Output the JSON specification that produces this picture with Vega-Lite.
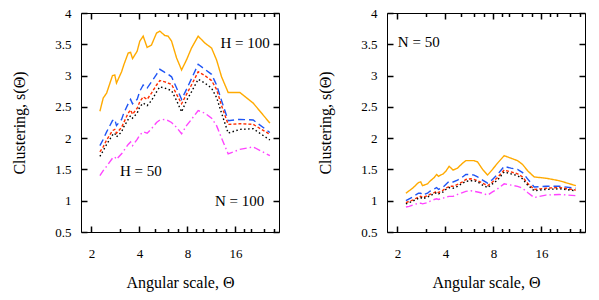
{
  "$schema": "https://vega.github.io/schema/vega-lite/v6.json",
  "padding": {"left": 11, "top": 6, "right": 5, "bottom": 5},
  "background": "white",
  "config": {
    "font": "Liberation Serif",
    "view": {"stroke": "black", "strokeWidth": 1},
    "axis": {"labelFont": "Liberation Serif", "labelFontSize": 13, "labelColor": "black", "titleFont": "Liberation Serif", "titleFontSize": 16, "titleFontWeight": "normal", "titleColor": "black", "ticks": true, "tickColor": "#000000", "tickWidth": 1.5, "tickOpacity": 1, "domain": false, "grid": false, "zindex": 1}
  },
  "datasets": {
    "curves": [
      {"panel": "L", "theta": 2.26, "o": 2.43, "b": 1.88, "r": 1.78, "k": 1.71, "m": 1.40},
      {"panel": "L", "theta": 2.37, "o": 2.64, "b": 1.98, "r": 1.86, "k": 1.80, "m": 1.48},
      {"panel": "L", "theta": 2.49, "o": 2.72, "b": 2.10, "r": 1.97, "k": 1.90, "m": 1.55},
      {"panel": "L", "theta": 2.71, "o": 3.00, "b": 2.28, "r": 2.12, "k": 2.05, "m": 1.68},
      {"panel": "L", "theta": 2.80, "o": 3.01, "b": 2.30, "r": 2.14, "k": 2.08, "m": 1.70},
      {"panel": "L", "theta": 2.87, "o": 2.88, "b": 2.20, "r": 2.08, "k": 2.02, "m": 1.66},
      {"panel": "L", "theta": 3.09, "o": 3.06, "b": 2.30, "r": 2.17, "k": 2.10, "m": 1.75},
      {"panel": "L", "theta": 3.19, "o": 3.17, "b": 2.40, "r": 2.25, "k": 2.18, "m": 1.80},
      {"panel": "L", "theta": 3.40, "o": 3.36, "b": 2.55, "r": 2.40, "k": 2.30, "m": 1.90},
      {"panel": "L", "theta": 3.52, "o": 3.37, "b": 2.62, "r": 2.45, "k": 2.36, "m": 1.94},
      {"panel": "L", "theta": 3.62, "o": 3.27, "b": 2.55, "r": 2.38, "k": 2.32, "m": 1.88},
      {"panel": "L", "theta": 3.87, "o": 3.39, "b": 2.62, "r": 2.48, "k": 2.40, "m": 1.98},
      {"panel": "L", "theta": 4.02, "o": 3.55, "b": 2.75, "r": 2.58, "k": 2.50, "m": 2.05},
      {"panel": "L", "theta": 4.22, "o": 3.63, "b": 2.85, "r": 2.66, "k": 2.56, "m": 2.10},
      {"panel": "L", "theta": 4.47, "o": 3.45, "b": 2.80, "r": 2.62, "k": 2.52, "m": 2.08},
      {"panel": "L", "theta": 4.76, "o": 3.49, "b": 2.90, "r": 2.72, "k": 2.60, "m": 2.15},
      {"panel": "L", "theta": 5.12, "o": 3.68, "b": 3.02, "r": 2.85, "k": 2.74, "m": 2.25},
      {"panel": "L", "theta": 5.37, "o": 3.71, "b": 3.10, "r": 2.92, "k": 2.82, "m": 2.29},
      {"panel": "L", "theta": 5.77, "o": 3.64, "b": 3.05, "r": 2.90, "k": 2.80, "m": 2.30},
      {"panel": "L", "theta": 6.05, "o": 3.63, "b": 3.02, "r": 2.88, "k": 2.78, "m": 2.28},
      {"panel": "L", "theta": 6.36, "o": 3.55, "b": 2.98, "r": 2.86, "k": 2.76, "m": 2.25},
      {"panel": "L", "theta": 6.84, "o": 3.28, "b": 2.80, "r": 2.70, "k": 2.60, "m": 2.17},
      {"panel": "L", "theta": 7.35, "o": 3.09, "b": 2.62, "r": 2.55, "k": 2.42, "m": 2.07},
      {"panel": "L", "theta": 7.89, "o": 3.25, "b": 2.78, "r": 2.70, "k": 2.60, "m": 2.20},
      {"panel": "L", "theta": 8.48, "o": 3.44, "b": 2.95, "r": 2.85, "k": 2.74, "m": 2.30},
      {"panel": "L", "theta": 9.34, "o": 3.63, "b": 3.18, "r": 3.06, "k": 2.94, "m": 2.44},
      {"panel": "L", "theta": 10.29, "o": 3.52, "b": 3.10, "r": 3.00, "k": 2.88, "m": 2.40},
      {"panel": "L", "theta": 11.33, "o": 3.44, "b": 3.02, "r": 2.92, "k": 2.80, "m": 2.32},
      {"panel": "L", "theta": 12.18, "o": 3.25, "b": 2.85, "r": 2.78, "k": 2.65, "m": 2.20},
      {"panel": "L", "theta": 13.09, "o": 2.98, "b": 2.60, "r": 2.52, "k": 2.40, "m": 2.00},
      {"panel": "L", "theta": 14.40, "o": 2.73, "b": 2.28, "r": 2.22, "k": 2.08, "m": 1.75},
      {"panel": "L", "theta": 17.04, "o": 2.73, "b": 2.30, "r": 2.23, "k": 2.14, "m": 1.82},
      {"panel": "L", "theta": 20.67, "o": 2.56, "b": 2.29, "r": 2.22, "k": 2.15, "m": 1.86},
      {"panel": "L", "theta": 26.3, "o": 2.24, "b": 2.09, "r": 2.06, "k": 1.97, "m": 1.72},
      {"panel": "R", "theta": 2.26, "o": 1.12, "b": 1.00, "r": 0.97, "k": 0.95, "m": 0.90},
      {"panel": "R", "theta": 2.37, "o": 1.16, "b": 1.03, "r": 0.99, "k": 0.97, "m": 0.91},
      {"panel": "R", "theta": 2.49, "o": 1.20, "b": 1.06, "r": 1.01, "k": 0.99, "m": 0.93},
      {"panel": "R", "theta": 2.71, "o": 1.29, "b": 1.12, "r": 1.06, "k": 1.04, "m": 0.96},
      {"panel": "R", "theta": 2.80, "o": 1.30, "b": 1.12, "r": 1.07, "k": 1.05, "m": 0.96},
      {"panel": "R", "theta": 2.87, "o": 1.24, "b": 1.09, "r": 1.05, "k": 1.03, "m": 0.95},
      {"panel": "R", "theta": 3.09, "o": 1.27, "b": 1.12, "r": 1.08, "k": 1.06, "m": 0.97},
      {"panel": "R", "theta": 3.19, "o": 1.31, "b": 1.15, "r": 1.10, "k": 1.08, "m": 0.99},
      {"panel": "R", "theta": 3.40, "o": 1.37, "b": 1.19, "r": 1.13, "k": 1.11, "m": 1.02},
      {"panel": "R", "theta": 3.52, "o": 1.42, "b": 1.21, "r": 1.15, "k": 1.13, "m": 1.03},
      {"panel": "R", "theta": 3.62, "o": 1.39, "b": 1.18, "r": 1.13, "k": 1.11, "m": 1.02},
      {"panel": "R", "theta": 3.87, "o": 1.43, "b": 1.22, "r": 1.17, "k": 1.14, "m": 1.04},
      {"panel": "R", "theta": 4.02, "o": 1.47, "b": 1.26, "r": 1.20, "k": 1.18, "m": 1.06},
      {"panel": "R", "theta": 4.22, "o": 1.55, "b": 1.31, "r": 1.23, "k": 1.21, "m": 1.07},
      {"panel": "R", "theta": 4.47, "o": 1.49, "b": 1.30, "r": 1.23, "k": 1.20, "m": 1.07},
      {"panel": "R", "theta": 4.76, "o": 1.52, "b": 1.33, "r": 1.26, "k": 1.23, "m": 1.10},
      {"panel": "R", "theta": 5.12, "o": 1.60, "b": 1.38, "r": 1.30, "k": 1.28, "m": 1.13},
      {"panel": "R", "theta": 5.37, "o": 1.64, "b": 1.42, "r": 1.34, "k": 1.31, "m": 1.15},
      {"panel": "R", "theta": 5.77, "o": 1.64, "b": 1.42, "r": 1.35, "k": 1.32, "m": 1.16},
      {"panel": "R", "theta": 6.05, "o": 1.64, "b": 1.41, "r": 1.34, "k": 1.32, "m": 1.15},
      {"panel": "R", "theta": 6.36, "o": 1.62, "b": 1.38, "r": 1.32, "k": 1.30, "m": 1.14},
      {"panel": "R", "theta": 6.84, "o": 1.50, "b": 1.33, "r": 1.28, "k": 1.25, "m": 1.12},
      {"panel": "R", "theta": 7.35, "o": 1.41, "b": 1.28, "r": 1.24, "k": 1.21, "m": 1.09},
      {"panel": "R", "theta": 7.89, "o": 1.50, "b": 1.34, "r": 1.30, "k": 1.27, "m": 1.14},
      {"panel": "R", "theta": 8.48, "o": 1.60, "b": 1.42, "r": 1.37, "k": 1.33, "m": 1.19},
      {"panel": "R", "theta": 9.34, "o": 1.72, "b": 1.55, "r": 1.49, "k": 1.46, "m": 1.27},
      {"panel": "R", "theta": 10.29, "o": 1.68, "b": 1.52, "r": 1.46, "k": 1.43, "m": 1.25},
      {"panel": "R", "theta": 11.33, "o": 1.64, "b": 1.50, "r": 1.43, "k": 1.40, "m": 1.23},
      {"panel": "R", "theta": 12.18, "o": 1.58, "b": 1.45, "r": 1.38, "k": 1.35, "m": 1.20},
      {"panel": "R", "theta": 13.09, "o": 1.48, "b": 1.35, "r": 1.28, "k": 1.25, "m": 1.13},
      {"panel": "R", "theta": 14.40, "o": 1.38, "b": 1.22, "r": 1.18, "k": 1.16, "m": 1.05},
      {"panel": "R", "theta": 17.04, "o": 1.36, "b": 1.23, "r": 1.20, "k": 1.18, "m": 1.09},
      {"panel": "R", "theta": 20.67, "o": 1.32, "b": 1.23, "r": 1.21, "k": 1.19, "m": 1.10},
      {"panel": "R", "theta": 26.3, "o": 1.24, "b": 1.20, "r": 1.17, "k": 1.16, "m": 1.08}
    ],
    "notes": [
      {"panel": "L", "theta": 18.4, "s": 3.52, "label": "H = 100"},
      {"panel": "L", "theta": 4.08, "s": 1.48, "label": "H = 50"},
      {"panel": "L", "theta": 17.0, "s": 1.0, "label": "N = 100"},
      {"panel": "R", "theta": 2.72, "s": 3.53, "label": "N = 50"}
    ]
  },
  "spacing": 36,
  "hconcat": [
    {
      "width": 198, "height": 219,
      "layer": [
        {
          "data": {"name": "curves"},
          "transform": [{"filter": "datum.panel == 'L'"}, {"fold": ["o", "b", "r", "k", "m"], "as": ["series", "s"]}],
          "mark": {"type": "line", "strokeWidth": 1.4, "clip": true},
          "encoding": {
            "x": {"field": "theta", "type": "quantitative", "scale": {"type": "log", "domain": [1.72, 30], "nice": false},
              "axis": {"orient": "bottom", "values": [2, 3, 4, 5, 6, 7, 8, 9, 10, 12, 14, 16, 18, 20, 24, 28], "format": "~g", "labelExpr": "indexof([2, 4, 8, 16], datum.value) >= 0 ? datum.label : ''", "labelOverlap": false, "labelFlush": false, "tickSize": {"condition": {"test": "indexof([2, 4, 8, 16], datum.value) >= 0", "value": -6}, "value": -3.5}, "labelPadding": 21, "title": "Angular scale, Θ", "titlePadding": 12}},
            "y": {"field": "s", "type": "quantitative", "scale": {"domain": [0.5, 4], "nice": false},
              "axis": {"orient": "left", "values": [0.5, 1, 1.5, 2, 2.5, 3, 3.5, 4], "format": "~g", "labelOverlap": false, "labelFlush": false, "tickSize": -6, "labelPadding": 16, "title": "Clustering, s(Θ)", "titlePadding": 27}},
            "color": {"field": "series", "type": "nominal", "scale": {"domain": ["o", "b", "r", "k", "m"], "range": ["#FFAA00", "#1F55F5", "#FF2D00", "#000000", "#FF44FF"]}, "legend": null},
            "strokeDash": {"field": "series", "type": "nominal", "scale": {"domain": ["o", "b", "r", "k", "m"], "range": [[1, 0], [7, 4], [3, 2], [1.5, 2.5], [7, 3, 1.5, 3]]}, "legend": null}
          }
        },
        {
          "data": {"name": "notes"},
          "transform": [{"filter": "datum.panel == 'L'"}],
          "mark": {"type": "text", "font": "Liberation Serif", "fontSize": 15, "color": "black"},
          "encoding": {
            "x": {"field": "theta", "type": "quantitative", "axis": {"orient": "top", "values": [2, 3, 4, 5, 6, 7, 8, 9, 10, 12, 14, 16, 18, 20, 24, 28], "labels": false, "tickSize": {"condition": {"test": "indexof([2, 4, 8, 16], datum.value) >= 0", "value": -6}, "value": -3.5}, "title": null}},
            "y": {"field": "s", "type": "quantitative", "axis": {"orient": "right", "values": [0.5, 1, 1.5, 2, 2.5, 3, 3.5, 4], "labels": false, "tickSize": -6, "title": null}},
            "text": {"field": "label"}
          }
        }
      ],
      "resolve": {"axis": {"x": "independent", "y": "independent"}}
    },
    {
      "width": 198, "height": 219,
      "layer": [
        {
          "data": {"name": "curves"},
          "transform": [{"filter": "datum.panel == 'R'"}, {"fold": ["o", "b", "r", "k", "m"], "as": ["series", "s"]}],
          "mark": {"type": "line", "strokeWidth": 1.4, "clip": true},
          "encoding": {
            "x": {"field": "theta", "type": "quantitative", "scale": {"type": "log", "domain": [1.72, 30], "nice": false},
              "axis": {"orient": "bottom", "values": [2, 3, 4, 5, 6, 7, 8, 9, 10, 12, 14, 16, 18, 20, 24, 28], "format": "~g", "labelExpr": "indexof([2, 4, 8, 16], datum.value) >= 0 ? datum.label : ''", "labelOverlap": false, "labelFlush": false, "tickSize": {"condition": {"test": "indexof([2, 4, 8, 16], datum.value) >= 0", "value": -6}, "value": -3.5}, "labelPadding": 21, "title": "Angular scale, Θ", "titlePadding": 12}},
            "y": {"field": "s", "type": "quantitative", "scale": {"domain": [0.5, 4], "nice": false},
              "axis": {"orient": "left", "values": [0.5, 1, 1.5, 2, 2.5, 3, 3.5, 4], "format": "~g", "labelOverlap": false, "labelFlush": false, "tickSize": -6, "labelPadding": 16, "title": "Clustering, s(Θ)", "titlePadding": 27}},
            "color": {"field": "series", "type": "nominal", "scale": {"domain": ["o", "b", "r", "k", "m"], "range": ["#FFAA00", "#1F55F5", "#FF2D00", "#000000", "#FF44FF"]}, "legend": null},
            "strokeDash": {"field": "series", "type": "nominal", "scale": {"domain": ["o", "b", "r", "k", "m"], "range": [[1, 0], [7, 4], [3, 2], [1.5, 2.5], [7, 3, 1.5, 3]]}, "legend": null}
          }
        },
        {
          "data": {"name": "notes"},
          "transform": [{"filter": "datum.panel == 'R'"}],
          "mark": {"type": "text", "font": "Liberation Serif", "fontSize": 15, "color": "black"},
          "encoding": {
            "x": {"field": "theta", "type": "quantitative", "axis": {"orient": "top", "values": [2, 3, 4, 5, 6, 7, 8, 9, 10, 12, 14, 16, 18, 20, 24, 28], "labels": false, "tickSize": {"condition": {"test": "indexof([2, 4, 8, 16], datum.value) >= 0", "value": -6}, "value": -3.5}, "title": null}},
            "y": {"field": "s", "type": "quantitative", "axis": {"orient": "right", "values": [0.5, 1, 1.5, 2, 2.5, 3, 3.5, 4], "labels": false, "tickSize": -6, "title": null}},
            "text": {"field": "label"}
          }
        }
      ],
      "resolve": {"axis": {"x": "independent", "y": "independent"}}
    }
  ]
}
